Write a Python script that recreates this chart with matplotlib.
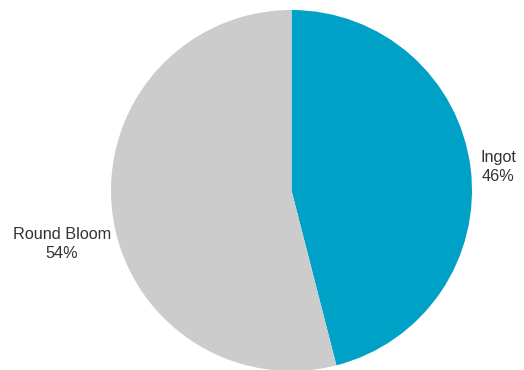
import matplotlib
matplotlib.use("Agg")
import matplotlib.pyplot as plt

categories = ["Ingot", "Round Bloom"]
values = [46, 54]
colors = ["#00A1C7", "#CCCCCC"]

W, H = 524, 370
cx, cy, R = 291.5, 190.5, 180.5

fig = plt.figure(figsize=(W / 100, H / 100), dpi=100)
ax = fig.add_axes([0, 0, 1, 1])
wedges, texts = ax.pie(values, colors=colors, startangle=90, counterclock=False,
                       labels=[f"{c}\n{v}%" for c, v in zip(categories, values)],
                       textprops=dict(color="#333333", fontsize=11.7, family="Liberation Sans",
                                      linespacing=1.35))
ax.set_xlim(-cx / R, (W - cx) / R)
ax.set_ylim(-(H - cy) / R, cy / R)
ax.set_aspect("auto")
ax.axis("off")

label_pos = [((498 - cx) / R, (cy - 167) / R), ((62 - cx) / R, (cy - 244) / R)]
for t, p in zip(texts, label_pos):
    t.set_position(p)
    t.set_ha("center")
    t.set_va("center")

fig.savefig("out.png", dpi=100)
